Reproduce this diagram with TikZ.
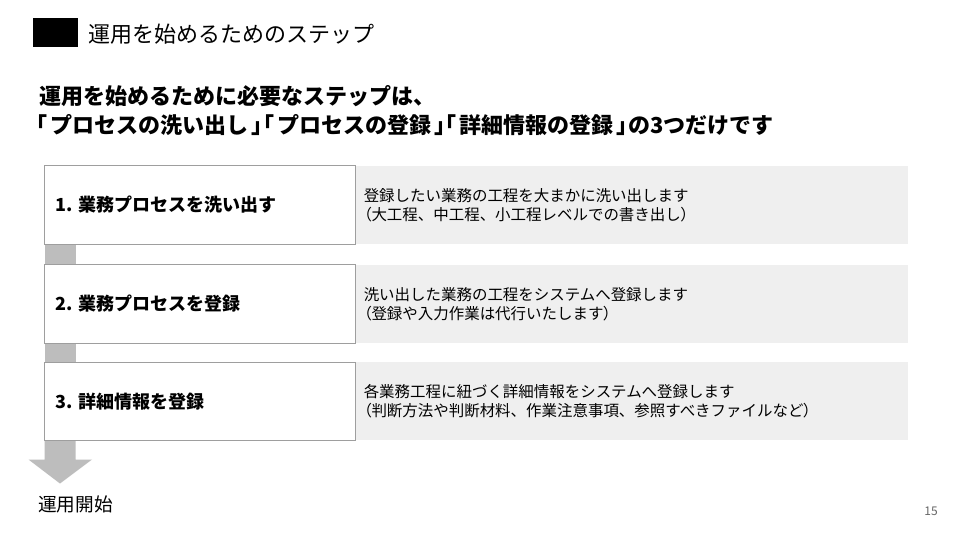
\documentclass[tikz,border=0pt]{standalone}
\usepackage{fontspec}
\setmainfont{Noto Sans CJK JP}
\newfontfamily\jpalt{Noto Sans CJK JP}[RawFeature=+palt]
\newcommand{\lbr}{{\jpalt 「}\kern2.5pt\relax}
\newcommand{\rbr}{\kern2.5pt{\jpalt 」}}
\newcommand{\lpar}{{\jpalt （}}
\newcommand{\rpar}{{\jpalt ）}}
\usetikzlibrary{calc}
\definecolor{boxline}{HTML}{9E9E9E}
\definecolor{barfill}{HTML}{BDBDBD}
\definecolor{panelfill}{HTML}{EFEFEF}
\definecolor{pagenum}{HTML}{666666}
\begin{document}
\begin{tikzpicture}[x=0.75pt,y=-0.75pt,
  stepbox/.style={fill=white, minimum width=232.5pt, minimum height=58.5pt, inner sep=0pt, anchor=north west},
  boxborder/.style={draw=boxline, line width=0.75pt},
  panel/.style={fill=panelfill, minimum width=415pt, minimum height=58.5pt, inner sep=0pt, anchor=north west},
  steplabel/.style={anchor=west, inner sep=0pt, font=\fontsize{13.5pt}{16pt}\selectfont\bfseries},
  paneltext/.style={anchor=west, inner sep=0pt, align=left, font=\fontsize{11.6pt}{14.2pt}\selectfont},
  headline/.style={anchor=west, inner sep=0pt, font=\fontsize{16.5pt}{20pt}\selectfont\bfseries},
  bar/.style={fill=barfill}]
\useasboundingbox[fill=white] (0,0) rectangle (960,540);
% title
\node[fill=black, minimum width=33.75pt, minimum height=21.75pt, inner sep=0pt, anchor=north west] (mark) at (33,18) {};
\node[anchor=west, inner sep=0pt, font=\fontsize{16.5pt}{20pt}\selectfont] (title) at (88,34) {運用を始めるためのステップ};
% heading
\node[headline] (h1) at (39,96) {運用を始めるために必要なステップは、};
\node[headline] (h2) at (36,125) {\lbr プロセスの洗い出し\rbr\lbr プロセスの登録\rbr\lbr 詳細情報の登録\rbr の3つだけです};
% panels
\node[panel] (p1) at (354.5,165.5) {};
\node[panel] (p2) at (354.5,264.5) {};
\node[panel] (p3) at (354.5,362) {};
% step boxes
\node[stepbox] (b1) at (44.5,165.5) {};
\node[stepbox] (b2) at (44.5,264.5) {};
\node[stepbox] (b3) at (44.5,362) {};
% bars between steps and final arrow
\fill[bar] (b1.south west) rectangle ($(b2.north west)+(31,0)$);
\fill[bar] (b2.south west) rectangle ($(b3.north west)+(31,0)$);
\fill[bar] (b3.south west) -- ++(31,0) -- ++(0,19) -- ++(16.5,0) -- ++(-32,24) -- ++(-31.5,-24) -- ++(16,0) -- cycle;
\draw[boxborder] (b1.south west) rectangle (b1.north east);
\draw[boxborder] (b2.south west) rectangle (b2.north east);
\draw[boxborder] (b3.south west) rectangle (b3.north east);
% labels
\node[steplabel] (l1) at ($(b1.west)+(10.5,0)$) {1. 業務プロセスを洗い出す};
\node[steplabel] (l2) at ($(b2.west)+(10.5,0)$) {2. 業務プロセスを登録};
\node[steplabel] (l3) at ($(b3.west)+(10.5,0)$) {3. 詳細情報を登録};
\node[paneltext] (t1) at ($(p1.west)+(9,0)$) {登録したい業務の工程を大まかに洗い出します\\\lpar 大工程、中工程、小工程レベルでの書き出し\rpar};
\node[paneltext] (t2) at ($(p2.west)+(9,0)$) {洗い出した業務の工程をシステムへ登録します\\\lpar 登録や入力作業は代行いたします\rpar};
\node[paneltext] (t3) at ($(p3.west)+(9,0)$) {各業務工程に紐づく詳細情報をシステムへ登録します\\\lpar 判断方法や判断材料、作業注意事項、参照すべきファイルなど\rpar};
% goal
\node[anchor=west, inner sep=0pt, font=\fontsize{14pt}{17pt}\selectfont] (goal) at (38,504) {運用開始};
\node[inner sep=0pt, text=pagenum, font=\fontsize{9pt}{11pt}\selectfont] (page) at (931,511) {15};
\end{tikzpicture}
\end{document}
